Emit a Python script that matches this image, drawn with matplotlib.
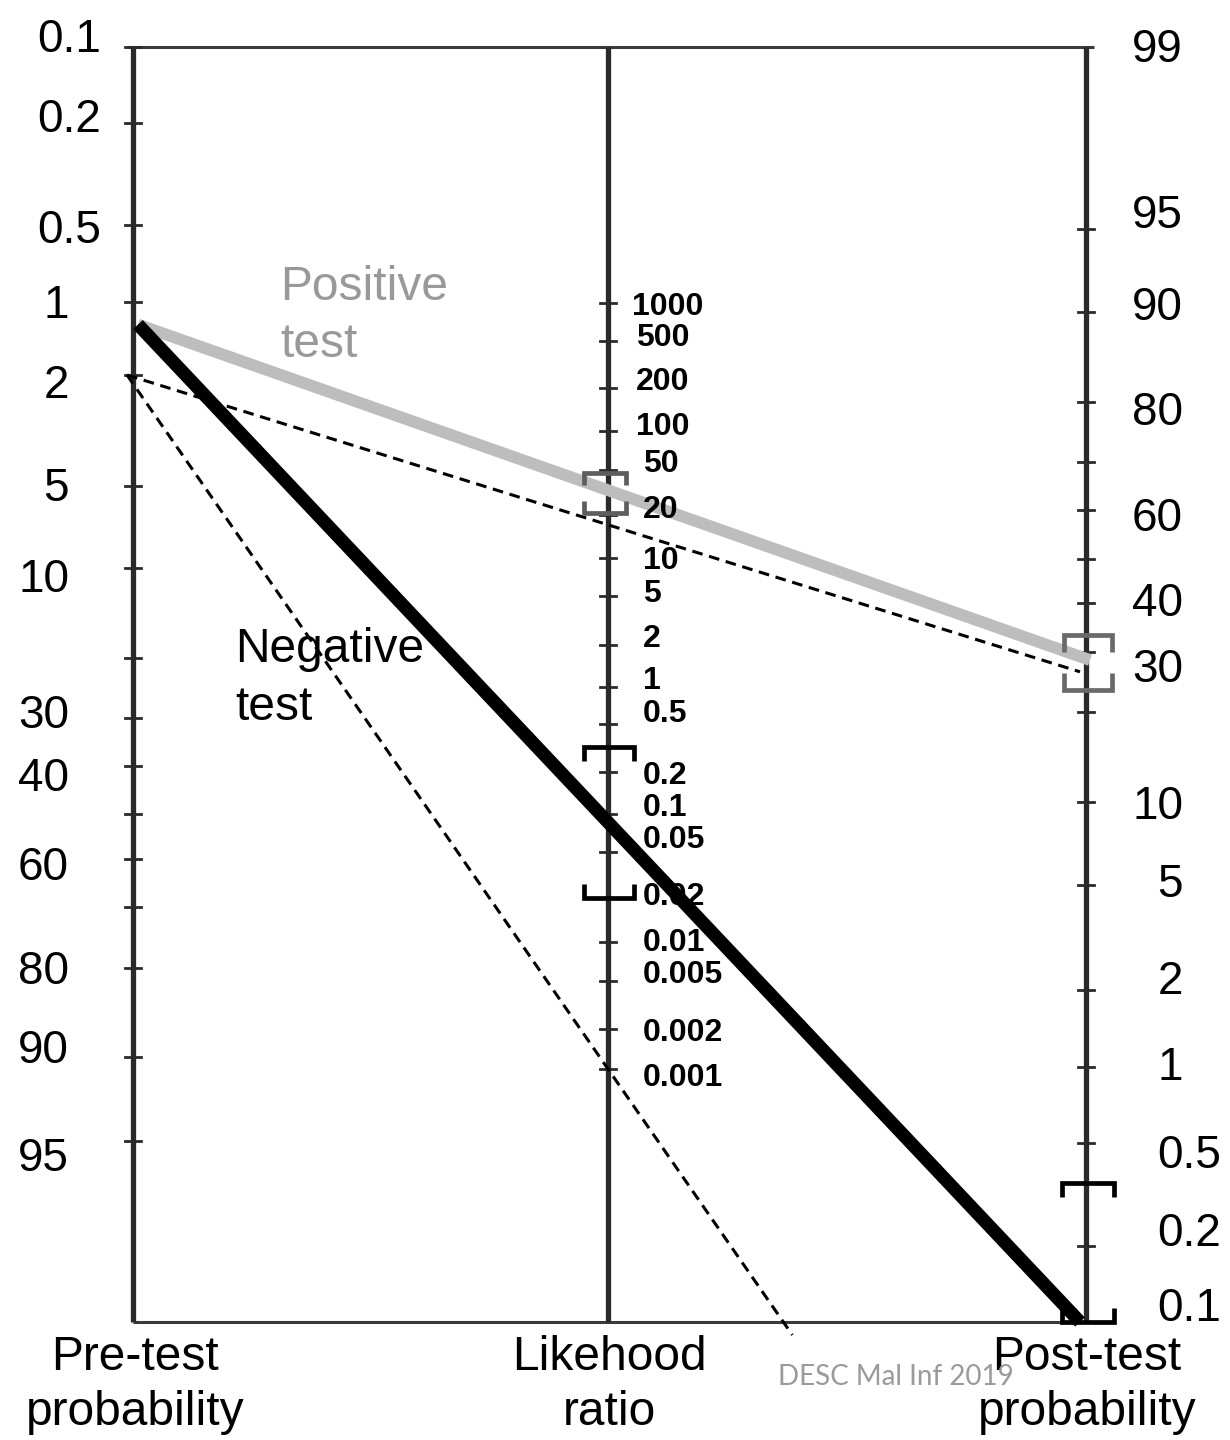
import numpy as np
import matplotlib
matplotlib.use("Agg")
import matplotlib.pyplot as plt

# ---------------- data ----------------
pretest_ticks = [0.1, 0.2, 0.5, 1, 2, 5, 10, 20, 30, 40, 50, 60, 70, 80, 90, 95, 99]
pretest_labels = ["0.1", "0.2", "0.5", "1", "2", "5", "10", "30", "40", "60", "80", "90", "95"]
lr_ticks = [1000, 500, 200, 100, 50, 20, 10, 5, 2, 1, 0.5, 0.2, 0.1, 0.05, 0.02, 0.01, 0.005, 0.002, 0.001]
lr_labels = ["1000", "500", "200", "100", "50", "20", "10", "5", "2", "1", "0.5", "0.2", "0.1",
             "0.05", "0.02", "0.01", "0.005", "0.002", "0.001"]
posttest_ticks = [99, 95, 90, 80, 70, 60, 50, 40, 30, 20, 10, 5, 2, 1, 0.5, 0.2, 0.1]
posttest_labels = ["99", "95", "90", "80", "60", "40", "30", "10", "5", "2", "1", "0.5", "0.2", "0.1"]

# test results (percent / likelihood ratio)
pos_pretest, pos_posttest = 1.24, 28.5
neg_pretest, neg_posttest = 1.24, 0.1
ref_pretest, ref_pos_posttest, ref_neg_lr = 2.0, 26.4, 0.001
lr_pos_ci = (21, 47)
post_pos_ci = (23.4, 33.3)
lr_neg_ci = (0.02, 0.32)
post_neg_ci = (0.1, 0.35)

# ---------------- layout of the hand-drawn scales (pixels) ----------------
W, H = 1230, 1440
X_LEFT, X_MID, X_RIGHT = 133, 608, 1086
Y_TOP, Y_BOT = 47, 1322
left_tick_y = [47, 123, 225, 302, 375, 486, 568, 658, 718, 766, 814, 859, 907, 968, 1057, 1141, 1322]
mid_tick_y = [303, 341, 388, 431, 470, 515, 558, 596, 645, 687, 724, 772, 814, 852, 898, 942, 981, 1029, 1069]
right_tick_y = [47, 229, 312, 402, 462, 510, 559, 603, 652, 712, 802, 885, 990, 1067, 1143, 1246, 1322]
left_label_y = [36, 116, 227, 302, 382, 485, 576, 712, 775, 864, 968, 1047, 1155]
mid_label_y = [304, 335, 379, 424, 461, 507, 558, 591, 636, 678, 711, 773, 805, 837, 894, 940, 972, 1030, 1075]
right_label_y = [46, 212, 304, 409, 515, 600, 666, 803, 881, 978, 1064, 1152, 1230, 1305]


def logit(p):
    p = np.asarray(p, dtype=float) / 100.0
    return np.log(p / (1 - p))


def y_left(p):
    return np.interp(logit(p), logit(pretest_ticks), left_tick_y)


def y_right(p):
    return np.interp(-logit(p), -logit(posttest_ticks), right_tick_y)


def y_mid(lr):
    return np.interp(-np.log10(lr), -np.log10(lr_ticks), mid_tick_y)


plt.rcParams["font.family"] = ["Liberation Sans", "DejaVu Sans"]
fig = plt.figure(figsize=(W / 100, H / 100), dpi=100)
ax = fig.add_axes([0, 0, 1, 1])
ax.set_xlim(0, W)
ax.set_ylim(H, 0)
ax.axis("off")

AXC = "#2a2a2a"
# frame
ax.plot([127, 1094], [Y_TOP, Y_TOP], color="#3a3a3a", lw=2.2, solid_capstyle="butt", zorder=2)
ax.plot([X_LEFT, X_RIGHT], [Y_BOT, Y_BOT], color="#3a3a3a", lw=2.2, solid_capstyle="butt", zorder=2)
for x in (X_LEFT, X_MID, X_RIGHT):
    ax.plot([x, x], [Y_TOP, Y_BOT], color=AXC, lw=3.8, solid_capstyle="butt", zorder=2)

# ticks
for y in left_tick_y[:-1]:
    ax.plot([X_LEFT - 8, X_LEFT + 8], [y, y], color=AXC, lw=2.0, zorder=2)
for y in mid_tick_y:
    ax.plot([X_MID - 8, X_MID + 8], [y, y], color=AXC, lw=2.0, zorder=2)
for y in right_tick_y[1:]:
    ax.plot([X_RIGHT - 8, X_RIGHT + 8], [y, y], color=AXC, lw=2.0, zorder=2)

FS = 33
FS_PX = FS * 100 / 72
CAP = 0.358 * FS_PX
FST = 34.5
FSM = 23
CAPM = 0.358 * FSM * 100 / 72

for lab, y in zip(pretest_labels, left_label_y):
    x = 101 if "." in lab else 69
    ax.text(x, y + CAP, lab, fontsize=FS, ha="right", va="baseline", color="black")
for lab, y in zip(lr_labels, mid_label_y):
    if len(lab) == 4 and "." not in lab:
        x = 632
    elif len(lab) == 3 and "." not in lab:
        x = 636
    else:
        x = 643
    ax.text(x, y + CAPM, lab, fontsize=FSM, fontweight="bold", ha="left", va="baseline",
            color="black", zorder=3.5)
for lab, y in zip(posttest_labels, right_label_y):
    if "." in lab:
        ax.text(1157, y + CAP, lab, fontsize=FS, ha="left", va="baseline", color="black")
    else:
        ax.text(1183, y + CAP, lab, fontsize=FS, ha="right", va="baseline", color="black")

# axis titles
for x, l1, l2 in [(135, "Pre-test", "probability"), (609, "Likehood", "ratio"),
                  (1087, "Post-test", "probability")]:
    ax.text(x, 1370, l1, fontsize=FST, ha="center", va="baseline", color="black", zorder=1)
    ax.text(x, 1425, l2, fontsize=FST, ha="center", va="baseline", color="black", zorder=1)

# positive test line (grey)
ax.plot([X_LEFT + 5, X_RIGHT + 4], [y_left(pos_pretest), y_right(pos_posttest)],
        color="#bdbdbd", lw=8.5, solid_capstyle="butt", zorder=3)
# negative test line (black)
ax.plot([X_LEFT + 5, X_RIGHT - 6], [y_left(neg_pretest), y_right(neg_posttest)],
        color="black", lw=9.5, solid_capstyle="butt", zorder=4)

# dashed reference lines
y0 = float(y_left(ref_pretest))
ax.plot([X_LEFT - 6, X_RIGHT - 6], [y0, y_right(ref_pos_posttest)], color="black", lw=2.2,
        ls=(0, (3.5, 2.2)), zorder=5)
ym = float(y_mid(ref_neg_lr))
slope = (ym - y0) / (X_MID - (X_LEFT - 6))
y_end = Y_BOT + 13
x_end = (X_LEFT - 6) + (y_end - y0) / slope
ax.plot([X_LEFT - 6, x_end], [y0, y_end], color="black", lw=2.2, ls=(0, (3.5, 2.2)), zorder=5)


def bracket(x, y_top, y_bot, color, half=24, leg=15, lw=3.4):
    ax.plot([x - half, x - half, x + half, x + half], [y_top + leg, y_top, y_top, y_top + leg],
            color=color, lw=lw, solid_joinstyle="miter", solid_capstyle="butt", zorder=6)
    ax.plot([x - half, x - half, x + half, x + half], [y_bot - leg, y_bot, y_bot, y_bot - leg],
            color=color, lw=lw, solid_joinstyle="miter", solid_capstyle="butt", zorder=6)


bracket(X_MID - 3, float(y_mid(lr_pos_ci[1])), float(y_mid(lr_pos_ci[0])), "#5e5e5e", half=21, leg=12)
bracket(X_RIGHT + 2, float(y_right(post_pos_ci[1])), float(y_right(post_pos_ci[0])), "#6a6a6a", half=24, leg=17)
bracket(X_MID + 1, float(y_mid(lr_neg_ci[1])), float(y_mid(lr_neg_ci[0])), "black", half=25, leg=14)
bracket(X_RIGHT + 2, float(y_right(post_neg_ci[1])), float(y_right(post_neg_ci[0])), "black", half=26, leg=14)

# annotations
ax.text(280, 300, "Positive", fontsize=FST, color="#999999", ha="left", va="baseline", zorder=7)
ax.text(280, 357, "test", fontsize=FST, color="#999999", ha="left", va="baseline", zorder=7)
ax.text(235, 662, "Negative", fontsize=FST, color="black", ha="left", va="baseline", zorder=7)
ax.text(235, 720, "test", fontsize=FST, color="black", ha="left", va="baseline", zorder=7)

ax.text(778, 1385, "DESC Mal Inf 2019", fontsize=20, family="Lato", color="#9a9a9a",
        ha="left", va="baseline", zorder=8)

fig.savefig("out.png", dpi=100)
